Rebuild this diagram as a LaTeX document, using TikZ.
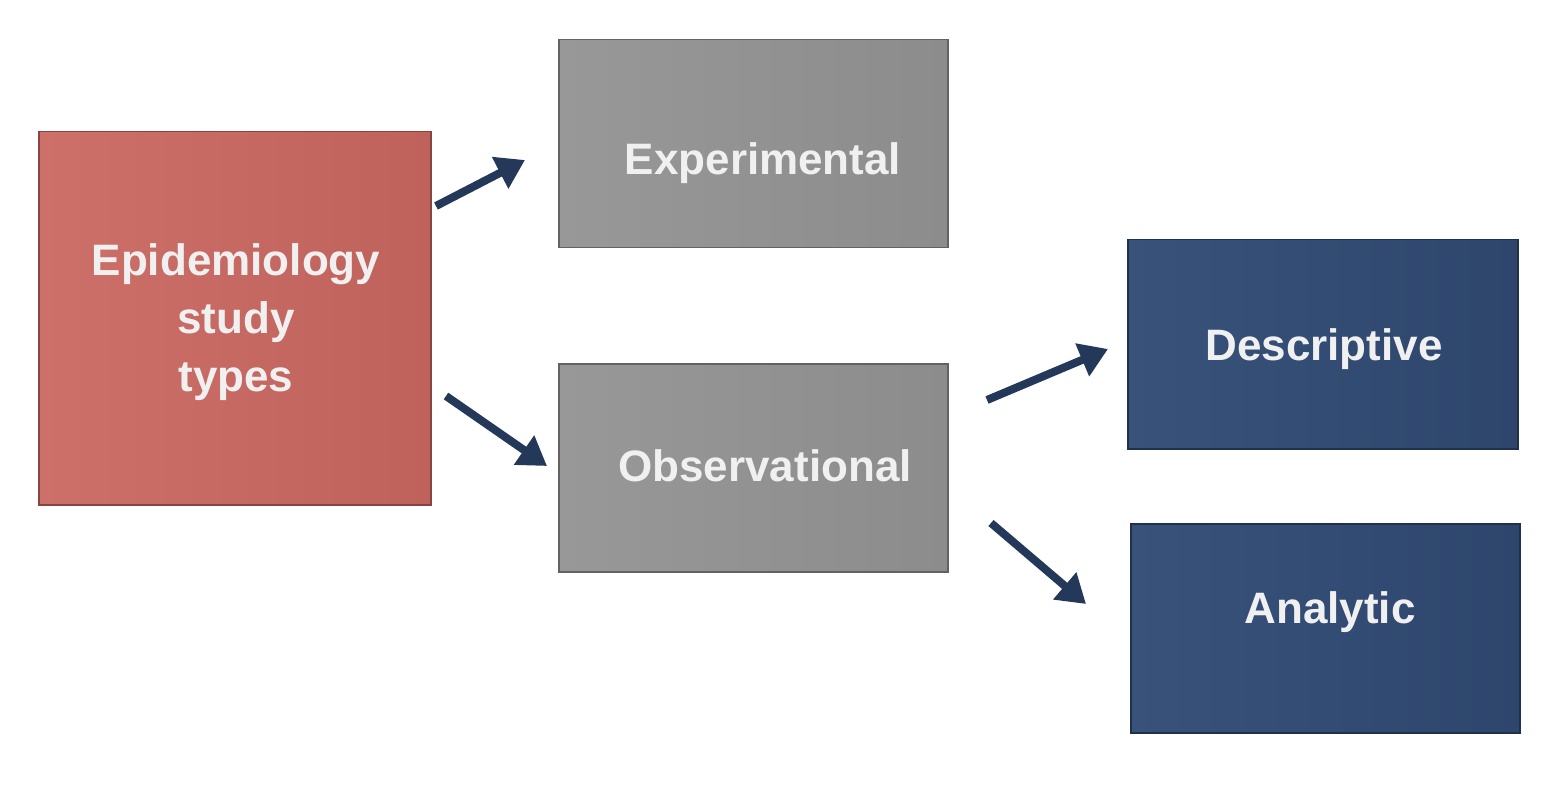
\documentclass[tikz,border=0pt]{standalone}
\usepackage{fontspec}
\setmainfont{Liberation Sans}
\usetikzlibrary{arrows.meta}
\definecolor{redbox}{RGB}{192,98,92}
\definecolor{redbox2}{RGB}{205,112,105}
\definecolor{graybox}{RGB}{140,140,140}
\definecolor{graybox2}{RGB}{152,152,152}
\definecolor{navy}{RGB}{46,70,108}
\definecolor{navy2}{RGB}{56,82,122}
\definecolor{arrowc}{RGB}{36,56,90}
\tikzset{
 box/.style={draw=#1!70!black, line width=1.5pt, anchor=north west, inner sep=0pt},
 lbl/.style={text=white!94!black, font=\bfseries\fontsize{44}{58}\selectfont, align=center},
 arr/.style={draw=arrowc, line width=8pt, -{Triangle[length=28pt,width=34pt]}}
}
\begin{document}
\begin{tikzpicture}[x=1pt,y=-1pt]
\useasboundingbox (0,0) rectangle (1544,786);
\node[box=redbox, minimum width=392pt, minimum height=373pt, left color=redbox2, right color=redbox] (epi) at (38,131) {};
\node[box=graybox, minimum width=389pt, minimum height=208pt, left color=graybox2, right color=graybox] (exp) at (558,39) {};
\node[box=graybox, minimum width=389pt, minimum height=208pt, left color=graybox2, right color=graybox] (obs) at (558,363) {};
\node[box=navy, minimum width=390pt, minimum height=209pt, left color=navy2, right color=navy] (des) at (1127,239) {};
\node[box=navy, minimum width=389pt, minimum height=209pt, left color=navy2, right color=navy] (ana) at (1130,523) {};
\node[lbl] (tepi) at (236,322) {Epidemiology\\study\\types};
\node[lbl] (texp) at (763,163) {Experimental};
\node[lbl] (tobs) at (765,466) {Observational};
\node[lbl] (tdes) at (1324,349) {Descriptive};
\node[lbl] (tana) at (1330,612) {Analytic};
\coordinate (a1s) at (436,206); \coordinate (a1e) at (525,160);
\coordinate (a2s) at (446,396); \coordinate (a2e) at (547,466);
\coordinate (a3s) at (987,400); \coordinate (a3e) at (1108,349);
\coordinate (a4s) at (991,523); \coordinate (a4e) at (1086,604);
\draw[arr] (a1s) -- (a1e);
\draw[arr] (a2s) -- (a2e);
\draw[arr] (a3s) -- (a3e);
\draw[arr] (a4s) -- (a4e);
\end{tikzpicture}
\end{document}
